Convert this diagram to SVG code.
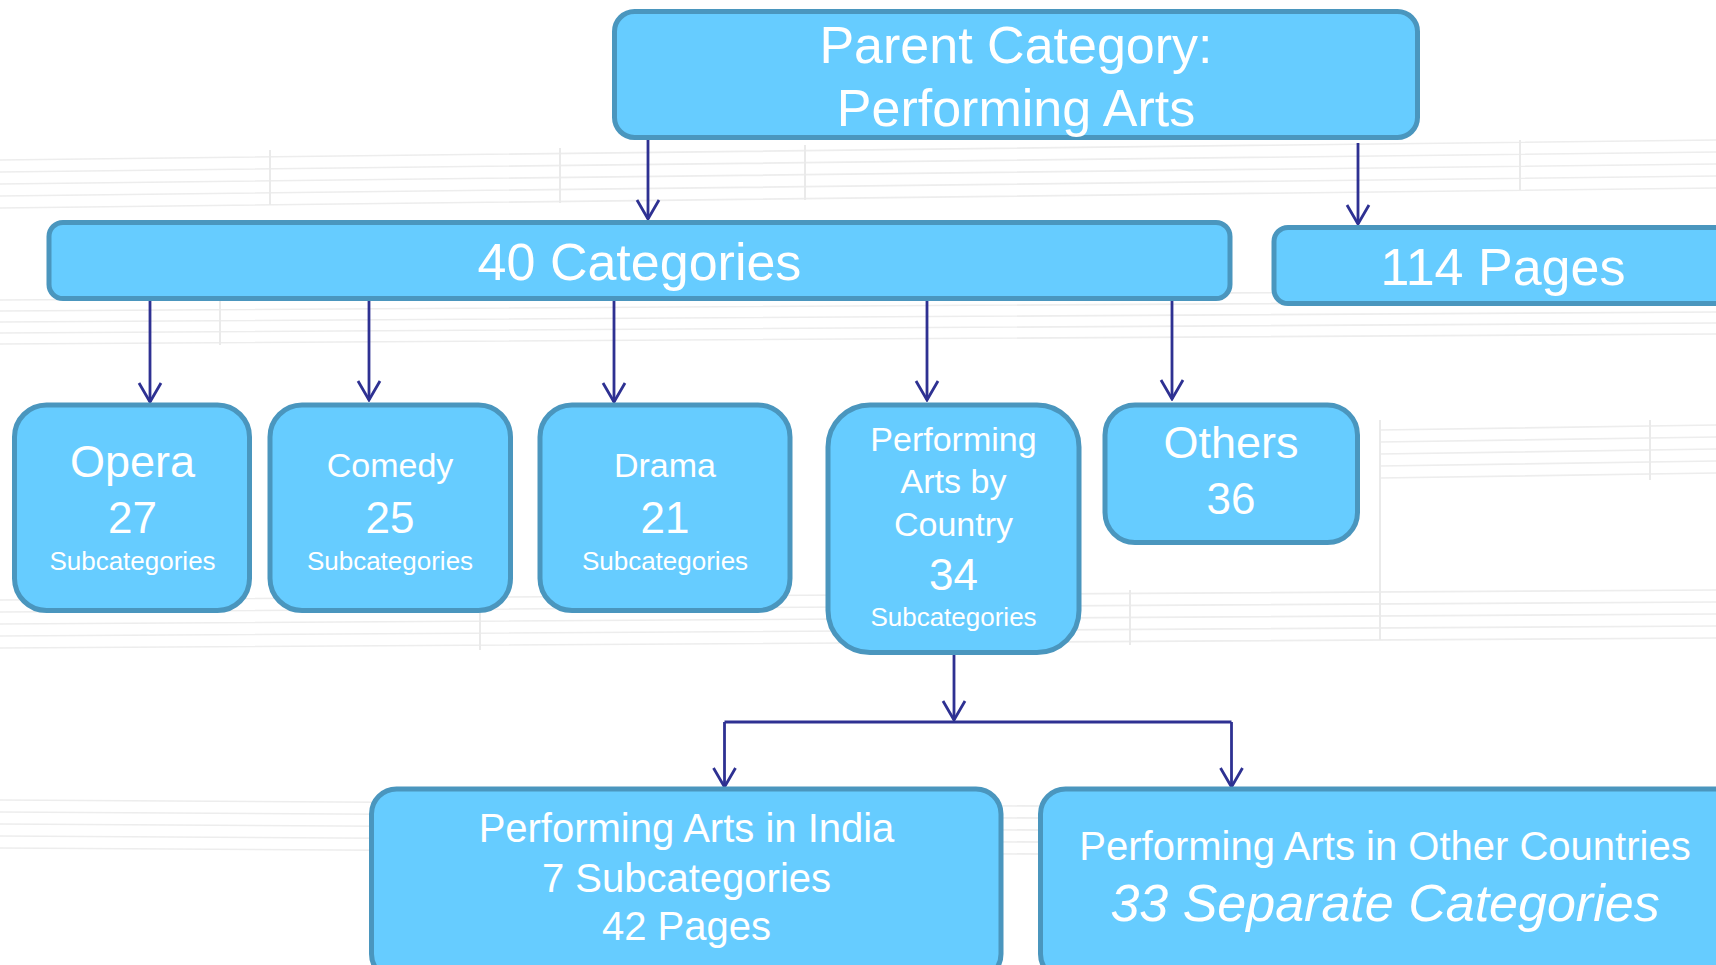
<svg xmlns="http://www.w3.org/2000/svg" width="1716" height="965" viewBox="0 0 1716 965">
<defs>
<style>
.box{fill:#66CCFF;stroke:#4A96BE;stroke-width:5}
.t{fill:#FFFFFF;font-family:"Liberation Sans",Arial,sans-serif;text-anchor:middle}
.big{font-size:52px}
.mid{font-size:45px}
.num{font-size:44px}
.lab{font-size:34px}
.sub{font-size:26px}
.l40{font-size:40px}
.conn{stroke:#2E3192;stroke-width:2.8;fill:none}
.staff{stroke:#EDEDED;stroke-width:1.6;fill:none}
.bar{stroke:#EAEAEA;stroke-width:2;fill:none}
</style>
<marker id="ah" viewBox="-21 -13 23 26" refX="0" refY="0" markerWidth="23" markerHeight="26" markerUnits="userSpaceOnUse" orient="auto">
<path d="M-19,-11 L0,0 L-19,11" fill="none" stroke="#2E3192" stroke-width="2.8"/>
</marker>
</defs>
<rect x="0" y="0" width="1716" height="965" fill="#FFFFFF"/>
<g id="background">
<path class="staff" d="M0,160 L1716,140 M0,172 L1716,152 M0,184 L1716,164 M0,196 L1716,176 M0,208 L1716,188"/>
<path class="staff" d="M0,300 L1716,290 M0,311 L1716,301 M0,322 L1716,312 M0,333 L1716,323 M0,344 L1716,334"/>
<path class="staff" d="M0,600 L1716,590 M0,612 L1716,602 M0,624 L1716,614 M0,636 L1716,626 M0,648 L1716,638"/>
<path class="staff" d="M1380,430 L1716,425 M1380,442 L1716,437 M1380,454 L1716,449 M1380,466 L1716,461 M1380,478 L1716,473"/>
<path class="staff" d="M0,800 L1716,810 M0,812 L1716,822 M0,824 L1716,834 M0,836 L1716,846 M0,848 L1716,858"/>
<path class="bar" d="M270,150 L270,205 M560,148 L560,203 M805,145 L805,200 M1520,140 L1520,190 M1380,420 L1380,640 M1650,420 L1650,480 M220,300 L220,345 M480,600 L480,650 M1130,590 L1130,645"/>
</g>
<g id="connectors">
<line class="conn" x1="648" y1="140" x2="648" y2="219" marker-end="url(#ah)"/>
<line class="conn" x1="1358" y1="143" x2="1358" y2="224" marker-end="url(#ah)"/>
<line class="conn" x1="150" y1="301" x2="150" y2="402" marker-end="url(#ah)"/>
<line class="conn" x1="369" y1="299" x2="369" y2="400" marker-end="url(#ah)"/>
<line class="conn" x1="614" y1="299" x2="614" y2="402" marker-end="url(#ah)"/>
<line class="conn" x1="927" y1="299" x2="927" y2="400" marker-end="url(#ah)"/>
<line class="conn" x1="1172" y1="295" x2="1172" y2="399" marker-end="url(#ah)"/>
<line class="conn" x1="954" y1="655" x2="954" y2="720" marker-end="url(#ah)"/>
<line class="conn" x1="724.5" y1="722" x2="1231.5" y2="722" style="stroke-width:3.2"/>
<line class="conn" x1="724.5" y1="722" x2="724.5" y2="787" marker-end="url(#ah)"/>
<line class="conn" x1="1231.5" y1="722" x2="1231.5" y2="787" marker-end="url(#ah)"/>
</g>
<g id="parent">
<rect class="box" x="614.5" y="11.5" width="803" height="126" rx="20"/>
<text class="t big" x="1016" y="63">Parent Category:</text>
<text class="t big" x="1016" y="126">Performing Arts</text>
</g>
<g id="categories40">
<rect class="box" x="49" y="222.5" width="1181" height="76" rx="14"/>
<text class="t big" x="639.5" y="280">40 Categories</text>
</g>
<g id="pages114">
<rect class="box" x="1274" y="227.5" width="470" height="76" rx="14"/>
<text class="t big" x="1503" y="285">114 Pages</text>
</g>
<g id="opera">
<rect class="box" x="14.5" y="405" width="235" height="205.5" rx="32"/>
<text class="t mid" x="132.5" y="477">Opera</text>
<text class="t num" x="132.5" y="533">27</text>
<text class="t sub" x="132.5" y="570">Subcategories</text>
</g>
<g id="comedy">
<rect class="box" x="270" y="405" width="240.5" height="205.5" rx="32"/>
<text class="t lab" x="390" y="477">Comedy</text>
<text class="t num" x="390" y="533">25</text>
<text class="t sub" x="390" y="570">Subcategories</text>
</g>
<g id="drama">
<rect class="box" x="540" y="405" width="250" height="205.5" rx="32"/>
<text class="t lab" x="665" y="477">Drama</text>
<text class="t num" x="665" y="533">21</text>
<text class="t sub" x="665" y="570">Subcategories</text>
</g>
<g id="by-country">
<rect class="box" x="828" y="405" width="251" height="247.5" rx="42"/>
<text class="t lab" x="953.5" y="451">Performing</text>
<text class="t lab" x="953.5" y="493">Arts by</text>
<text class="t lab" x="953.5" y="536">Country</text>
<text class="t num" x="953.5" y="590">34</text>
<text class="t sub" x="953.5" y="626">Subcategories</text>
</g>
<g id="others">
<rect class="box" x="1105" y="405" width="252.5" height="137.5" rx="30"/>
<text class="t mid" x="1231" y="458">Others</text>
<text class="t num" x="1231" y="514">36</text>
</g>
<g id="india">
<rect class="box" x="371.5" y="789" width="629.5" height="190" rx="25"/>
<text class="t l40" x="686.5" y="842">Performing Arts in India</text>
<text class="t l40" x="686.5" y="892">7 Subcategories</text>
<text class="t l40" x="686.5" y="940">42 Pages</text>
</g>
<g id="other-countries">
<rect class="box" x="1040.5" y="789" width="700" height="190" rx="25"/>
<text class="t l40" x="1385" y="860">Performing Arts in Other Countries</text>
<text class="t big" x="1385" y="921" font-style="italic">33 Separate Categories</text>
</g>
</svg>
